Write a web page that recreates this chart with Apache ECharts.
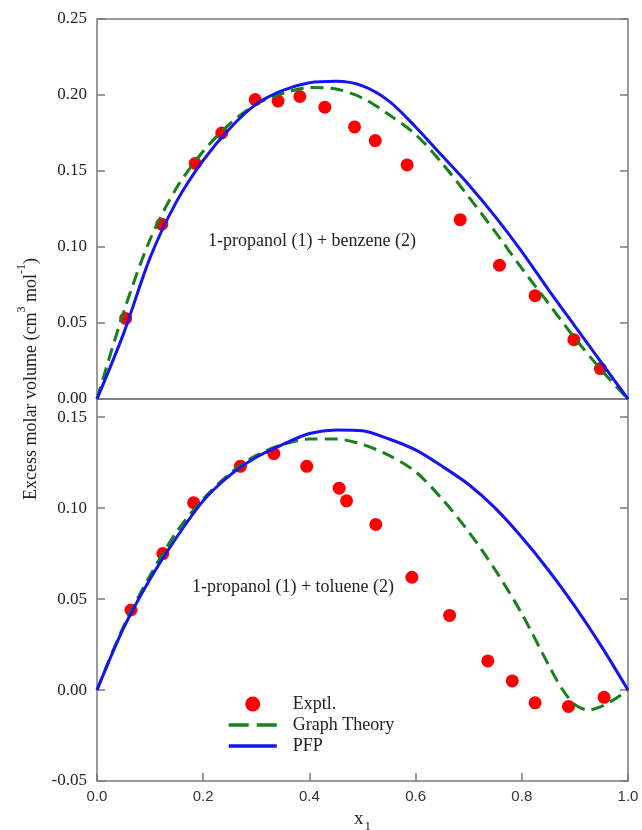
<!DOCTYPE html>
<html>
<head>
<meta charset="utf-8">
<script src="https://cdn.jsdelivr.net/npm/echarts@6/dist/echarts.min.js"></script>
<style>html,body{margin:0;padding:0;background:#fff}#c{width:642px;height:830px}</style>
</head>
<body>
<div id="c"></div>
<script>
// ---- data ----
const curveX = [0,0.05,0.10,0.15,0.20,0.25,0.30,0.35,0.40,0.45,0.50,0.55,0.60,0.65,0.70,0.75,0.80,0.85,0.90,0.95,1.00];

const benzeneExpX = [0.054,0.122,0.185,0.235,0.298,0.341,0.382,0.429,0.485,0.524,0.584,0.684,0.758,0.825,0.898,0.948];
const benzeneExpY = [0.053,0.115,0.155,0.175,0.197,0.196,0.199,0.192,0.179,0.170,0.154,0.118,0.088,0.068,0.039,0.020];
const benzeneGT   = [0,0.057,0.105,0.139,0.163,0.181,0.194,0.201,0.205,0.204,0.198,0.187,0.174,0.155,0.133,0.110,0.086,0.063,0.040,0.019,0];
const benzenePFP  = [0,0.043,0.093,0.130,0.157,0.178,0.194,0.203,0.208,0.209,0.206,0.196,0.179,0.160,0.141,0.120,0.097,0.072,0.048,0.024,0];

const tolueneExpX = [0.064,0.124,0.182,0.270,0.333,0.395,0.456,0.470,0.525,0.593,0.664,0.736,0.782,0.825,0.888,0.955];
const tolueneExpY = [0.044,0.075,0.103,0.123,0.130,0.123,0.111,0.104,0.091,0.062,0.041,0.016,0.005,-0.007,-0.009,-0.004];
const toluenePFP  = [0,0.034,0.061,0.084,0.104,0.118,0.128,0.135,0.141,0.143,0.1425,0.138,0.132,0.123,0.113,0.100,0.084,0.066,0.046,0.024,0];
const tolueneGTX  = [0,0.05,0.10,0.15,0.20,0.25,0.30,0.35,0.40,0.45,0.50,0.55,0.60,0.65,0.70,0.75,0.80,0.85,0.875,0.90,0.925,0.95,0.975,1.00];
const tolueneGT   = [0,0.035,0.063,0.087,0.105,0.119,0.129,0.135,0.138,0.138,0.135,0.129,0.120,0.105,0.087,0.066,0.042,0.014,0.001,-0.008,-0.011,-0.009,-0.005,0];

const xTicks = ['0.0','0.2','0.4','0.6','0.8','1.0'];
const seriesNames = ['Exptl.','Graph Theory','PFP'];
const panelLabels = ['1-propanol (1) + benzene (2)','1-propanol (1) + toluene (2)'];

// ---- helpers ----
const zip = (xs, ys) => xs.map((x, i) => [x, ys[i]]);
const SERIF = '"Liberation Serif", "Times New Roman", serif';
const SANS = '"Liberation Sans", Arial, sans-serif';
const FRAME = '#7a7a7a';
const RED = '#ff0000', GREEN = '#18801a', BLUE = '#1414f0';
const HIDDEN = { color: 'rgba(0,0,0,0)', borderWidth: 0, opacity: 0 };

function yAxisLeft(grid, min, max, maxLabel) {
  return {
    type: 'value', gridIndex: grid, min: min, max: max, interval: 0.05, position: 'left',
    axisLine: { show: false },
    axisTick: { show: true, inside: true, length: 8, lineStyle: { color: FRAME, width: 1.5 } },
    axisLabel: {
      fontFamily: SERIF, fontSize: 17, color: '#222', margin: 10,
      formatter: v => (v > maxLabel + 1e-9 ? '' : v.toFixed(2))
    },
    splitLine: { show: false }
  };
}
function yAxisRight(grid, min, max) {
  return {
    type: 'value', gridIndex: grid, min: min, max: max, interval: 0.05, position: 'right',
    axisLine: { show: false },
    axisTick: { show: true, inside: true, length: 8, lineStyle: { color: FRAME, width: 1.5 } },
    axisLabel: { show: false }, splitLine: { show: false }
  };
}

const lineCommon = { type: 'line', symbol: 'none', showSymbol: false, smooth: 0.3, z: 3 };

const option = {
  animation: false,
  backgroundColor: '#fff',
  grid: [
    { left: 97, right: 14, top: 19, height: 380, show: true, borderColor: FRAME, borderWidth: 1.5,
      backgroundColor: 'transparent', outerBoundsMode: 'none', containLabel: false },
    { left: 97, right: 14, top: 399, height: 382, show: true, borderColor: FRAME, borderWidth: 1.5,
      backgroundColor: 'transparent', outerBoundsMode: 'none', containLabel: false }
  ],
  xAxis: [
    { type: 'value', gridIndex: 0, min: 0, max: 1, interval: 0.2,
      axisLine: { show: false, onZero: false }, axisTick: { show: false }, axisLabel: { show: false }, splitLine: { show: false } },
    { type: 'value', gridIndex: 1, min: 0, max: 1, interval: 0.2, position: 'bottom',
      axisLine: { show: false, onZero: false },
      axisTick: { show: true, inside: true, length: 8, lineStyle: { color: FRAME, width: 1.5 } },
      axisLabel: { fontFamily: SANS, fontSize: 15, color: '#333', margin: 8,
        formatter: v => xTicks[Math.round(v / 0.2)] },
      splitLine: { show: false },
      name: '{a|x}{s|1}', nameLocation: 'middle', nameGap: 26,
      nameTextStyle: { rich: {
        a: { fontFamily: SERIF, fontSize: 19, color: '#222', lineHeight: 22, verticalAlign: 'bottom' },
        s: { fontFamily: SERIF, fontSize: 13, color: '#222', lineHeight: 13, verticalAlign: 'bottom', padding: [0, 0, -4, 1] }
      } }
    }
  ],
  yAxis: [
    yAxisLeft(0, 0, 0.25, 0.25),
    yAxisRight(0, 0, 0.25),
    yAxisLeft(1, -0.05, 0.16, 0.15),
    yAxisRight(1, -0.05, 0.16)
  ],
  legend: {
    data: [
      { name: seriesNames[0] },
      { name: seriesNames[1], itemStyle: HIDDEN, lineStyle: { width: 3.5, type: [20, 8], color: GREEN } },
      { name: seriesNames[2], itemStyle: HIDDEN, lineStyle: { width: 3.5, color: BLUE } }
    ],
    orient: 'vertical', left: 222, top: 690,
    itemWidth: 48, itemHeight: 15, itemGap: 3,
    textStyle: { fontFamily: SERIF, fontSize: 18, color: '#222', padding: [0, 0, 0, 11] },
    selectedMode: false
  },
  graphic: [
    { type: 'text', x: 28, y: 379, rotation: Math.PI / 2, z: 10,
      style: {
        text: '{a|Excess molar volume (cm}{s|3}{a| mol}{s|-1}{a|)}',
        align: 'center', verticalAlign: 'middle',
        rich: {
          a: { fontFamily: SERIF, fontSize: 18, fill: '#222', lineHeight: 24, verticalAlign: 'bottom' },
          s: { fontFamily: SERIF, fontSize: 12, fill: '#222', lineHeight: 12, verticalAlign: 'top' }
        }
      } },
    { type: 'text', x: 312, y: 241, z: 10,
      style: { text: panelLabels[0], align: 'center', verticalAlign: 'middle', fontFamily: SERIF, fontSize: 18, fill: '#222' } },
    { type: 'text', x: 293, y: 587, z: 10,
      style: { text: panelLabels[1], align: 'center', verticalAlign: 'middle', fontFamily: SERIF, fontSize: 18, fill: '#222' } }
  ],
  series: [
    { name: seriesNames[0], type: 'scatter', xAxisIndex: 0, yAxisIndex: 0, symbol: 'circle', symbolSize: 13,
      itemStyle: { color: RED, opacity: 1 }, z: 2, data: zip(benzeneExpX, benzeneExpY) },
    Object.assign({}, lineCommon, { name: seriesNames[1], xAxisIndex: 0, yAxisIndex: 0,
      lineStyle: { color: GREEN, width: 3, type: [13, 7] }, itemStyle: { color: GREEN }, data: zip(curveX, benzeneGT) }),
    Object.assign({}, lineCommon, { name: seriesNames[2], xAxisIndex: 0, yAxisIndex: 0,
      lineStyle: { color: BLUE, width: 3 }, itemStyle: { color: BLUE }, data: zip(curveX, benzenePFP) }),

    { name: seriesNames[0], type: 'scatter', xAxisIndex: 1, yAxisIndex: 2, symbol: 'circle', symbolSize: 13,
      itemStyle: { color: RED, opacity: 1 }, z: 2, data: zip(tolueneExpX, tolueneExpY) },
    Object.assign({}, lineCommon, { name: seriesNames[1], xAxisIndex: 1, yAxisIndex: 2,
      lineStyle: { color: GREEN, width: 3, type: [13, 7] }, itemStyle: { color: GREEN }, data: zip(tolueneGTX, tolueneGT) }),
    Object.assign({}, lineCommon, { name: seriesNames[2], xAxisIndex: 1, yAxisIndex: 2,
      lineStyle: { color: BLUE, width: 3 }, itemStyle: { color: BLUE }, data: zip(curveX, toluenePFP) })
  ]
};

const chart = echarts.init(document.getElementById('c'), null, { renderer: 'canvas' });
chart.setOption(option);
</script>
</body>
</html>
